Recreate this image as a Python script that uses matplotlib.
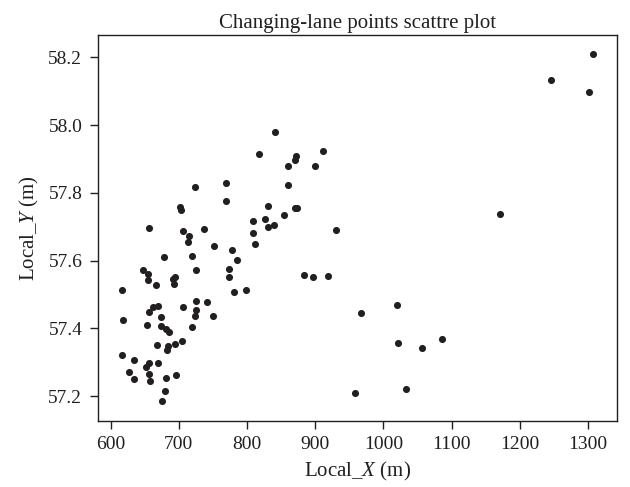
import matplotlib
matplotlib.use("Agg")
import matplotlib.pyplot as plt

plt.rcParams['font.family'] = ['Liberation Serif', 'DejaVu Serif']
plt.rcParams['mathtext.fontset'] = 'custom'
plt.rcParams['mathtext.rm'] = 'Liberation Serif'
plt.rcParams['mathtext.it'] = 'Liberation Serif:italic'

title = "Changing-lane points scattre plot"
x_label = "Local_$\\mathit{X}$ (m)"
y_label = "Local_$\\mathit{Y}$ (m)"

local_x = [1306.8, 1245.1, 1300.9, 1171.3, 1019.7, 1021.6, 1056.4, 1085.8, 1033.4, 967.8,
           959.0, 930.6, 883.7, 896.2, 918.2, 840.7, 817.6, 871.5, 870.0, 911.1,
           860.2, 900.3, 723.7, 769.9, 769.9, 701.0, 702.7, 860.2, 830.8, 870.0,
           873.0, 854.3, 808.4, 826.7, 831.3, 839.7, 808.1, 811.3, 656.2, 706.5,
           714.9, 736.2, 713.1, 751.3, 777.6, 677.8, 719.6, 785.4, 725.5, 774.3,
           772.9, 781.0, 799.0, 647.4, 654.7, 654.7, 666.9, 691.4, 694.4, 693.3,
           616.6, 618.1, 656.6, 662.1, 669.4, 673.5, 653.3, 674.3, 681.2, 686.0,
           706.5, 724.9, 740.6, 724.9, 723.7, 749.4, 719.3, 667.5, 684.5, 682.2,
           694.4, 704.3, 616.3, 634.9, 651.8, 656.6, 669.0, 627.1, 634.9, 656.6,
           658.0, 681.2, 696.3, 679.4, 674.8]
local_y = [58.210, 58.133, 58.099, 57.737, 57.470, 57.356, 57.341, 57.367, 57.221, 57.446,
           57.208, 57.690, 57.556, 57.552, 57.555, 57.981, 57.914, 57.909, 57.896, 57.924,
           57.878, 57.880, 57.817, 57.829, 57.776, 57.758, 57.748, 57.822, 57.761, 57.755,
           57.755, 57.735, 57.718, 57.724, 57.698, 57.705, 57.681, 57.650, 57.697, 57.687,
           57.674, 57.693, 57.654, 57.642, 57.632, 57.610, 57.615, 57.603, 57.573, 57.575,
           57.551, 57.507, 57.514, 57.573, 57.561, 57.542, 57.527, 57.547, 57.553, 57.531,
           57.514, 57.425, 57.449, 57.462, 57.465, 57.432, 57.409, 57.407, 57.398, 57.388,
           57.462, 57.480, 57.477, 57.455, 57.436, 57.435, 57.404, 57.350, 57.349, 57.336,
           57.353, 57.362, 57.320, 57.305, 57.287, 57.298, 57.299, 57.270, 57.249, 57.265,
           57.243, 57.253, 57.262, 57.216, 57.184]

x_ticks = [600, 700, 800, 900, 1000, 1100, 1200, 1300]
y_ticks = [57.2, 57.4, 57.6, 57.8, 58.0, 58.2]

fig = plt.figure(figsize=(6.3, 4.87), dpi=100)
ax = fig.add_axes([0.155, 0.136, 0.825, 0.792])
ax.scatter(local_x, local_y, s=26, color='#231f20', linewidths=0, zorder=3)
ax.set_xlim(581, 1343)
ax.set_ylim(57.127, 58.266)
ax.set_xticks(x_ticks)
ax.set_yticks(y_ticks)
ax.set_yticklabels([f"{v:.1f}" for v in y_ticks])
ax.tick_params(direction='out', length=6, width=1, labelsize=14, pad=5,
               colors='#231f20', top=False, right=False)
for sp in ax.spines.values():
    sp.set_linewidth(1.0)
    sp.set_color('#231f20')
ax.set_title(title, fontsize=15, color='#231f20', pad=5)
ax.set_xlabel(x_label, fontsize=15, color='#231f20', labelpad=5)
ax.set_ylabel(y_label, fontsize=15, color='#231f20', labelpad=5)
fig.savefig("out.png", dpi=100)
